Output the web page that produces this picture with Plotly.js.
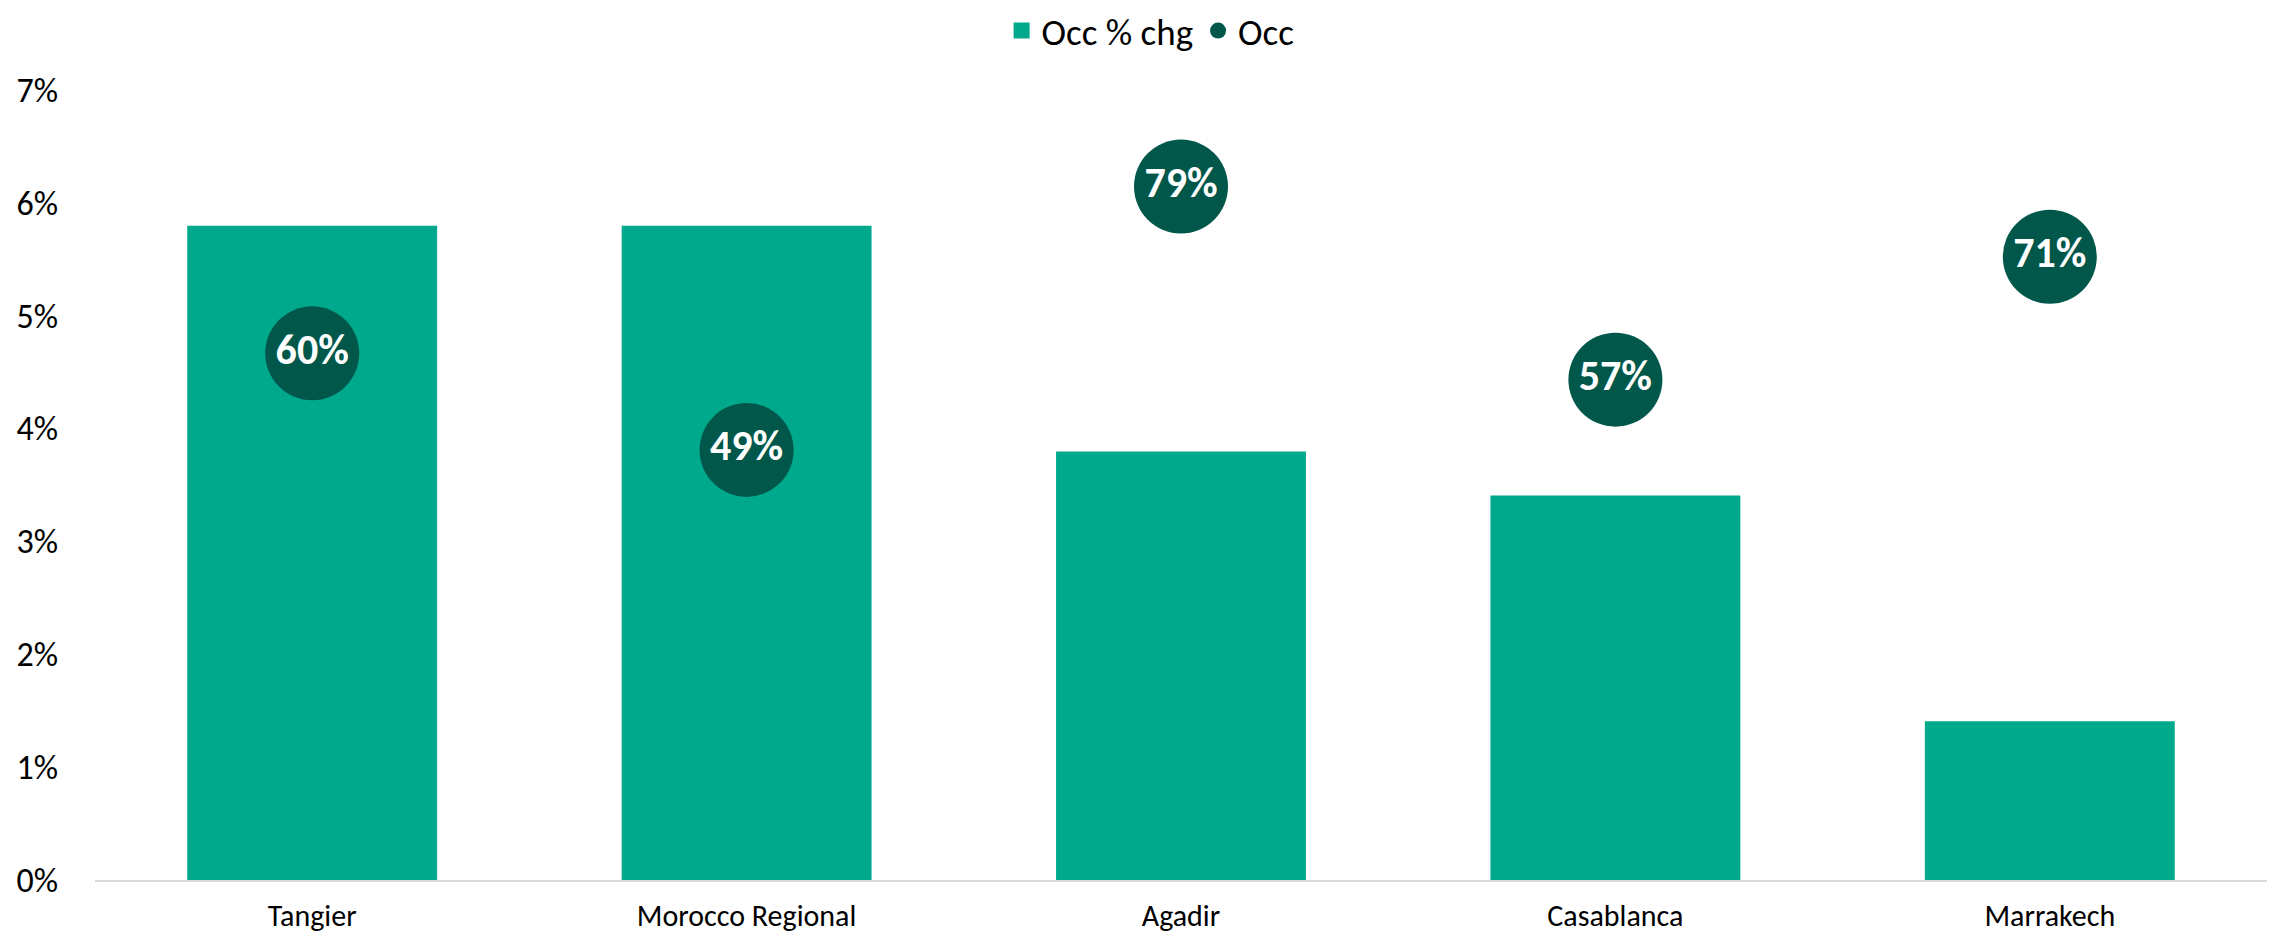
<!DOCTYPE html>
<html>
<head>
<meta charset="utf-8">
<script src="https://cdn.plot.ly/plotly-3.0.1.min.js"></script>
<style>html,body{margin:0;padding:0;background:#fff;}#chart{width:2277px;height:938px;}</style>
</head>
<body>
<div id="chart"></div>
<script>
const categories = ["Tangier", "Morocco Regional", "Agadir", "Casablanca", "Marrakech"];
const occPctChg = [0.0578, 0.0578, 0.0378, 0.0339, 0.0139];
const occ = [0.60, 0.49, 0.79, 0.57, 0.71];
const yTickVals = [0, 0.01, 0.02, 0.03, 0.04, 0.05, 0.06, 0.07];

const FONT = "Carlito, Calibri, Lato, 'Open Sans', sans-serif";

const traces = [
  {
    type: "bar",
    name: "Occ % chg",
    x: categories,
    y: occPctChg,
    marker: {color: "#00A98C", line: {color: "#00A98C", width: 4}},
    hoverinfo: "x+y"
  },
  {
    type: "scatter",
    mode: "markers+text",
    name: "Occ",
    x: categories,
    y: occ,
    yaxis: "y2",
    marker: {color: "#00574A", size: 94},
    text: occ.map(v => Math.round(v * 100) + "%"),
    textposition: "middle center",
    textfont: {family: FONT, size: 42, color: "#ffffff", weight: "bold"},
    cliponaxis: false
  }
];

const layout = {
  width: 2277,
  height: 938,
  margin: {l: 95, r: 10, t: 90, b: 58},
  paper_bgcolor: "#ffffff",
  plot_bgcolor: "#ffffff",
  font: {family: FONT, color: "#000000"},
  bargap: 0.434,
  showlegend: true,
  legend: {
    orientation: "h",
    x: 0.486, xanchor: "center", xref: "paper",
    y: 1.0, yref: "container", yanchor: "top",
    font: {family: FONT, size: 37, color: "#000"},
    itemsizing: "trace",
    traceorder: "normal"
  },
  xaxis: {
    type: "category",
    showgrid: false,
    showline: true,
    linecolor: "#D9D9D9",
    linewidth: 2,
    ticks: "",
    tickfont: {family: FONT, size: 30, color: "#000"},
    ticklabelstandoff: 8,
    fixedrange: true
  },
  yaxis: {
    range: [0, 0.07],
    tickvals: yTickVals,
    tickformat: ".0%",
    showgrid: false,
    zeroline: false,
    showline: false,
    ticks: "",
    tickfont: {family: FONT, size: 34, color: "#000"},
    ticklabelstandoff: 36,
    fixedrange: true
  },
  yaxis2: {
    overlaying: "y",
    side: "right",
    range: [0, 0.9],
    visible: false,
    showgrid: false,
    zeroline: false,
    fixedrange: true
  }
};

Plotly.newPlot("chart", traces, layout, {displayModeBar: false, staticPlot: true});
</script>
</body>
</html>
